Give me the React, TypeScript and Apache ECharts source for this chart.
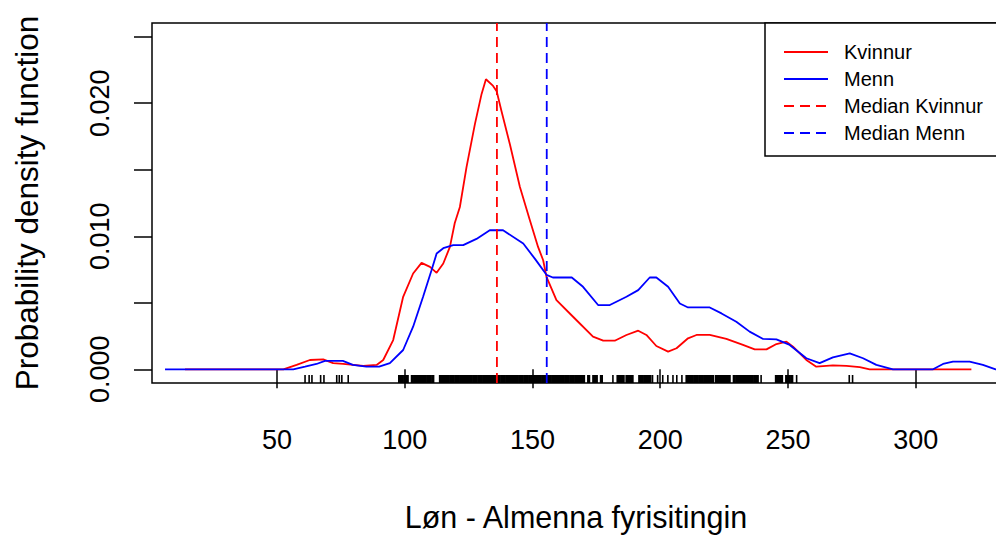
import React, { useEffect, useRef } from "react";
import * as echarts from "echarts";

// ---- data ----
const xTicks = [50, 100, 150, 200, 250, 300];
const yTicks = [0, 0.005, 0.01, 0.015, 0.02, 0.025];
const yLabelTicks = [0, 0.01, 0.02];

const kvinnurCurve: [number, number][] = [
  [14, 0], [52.5, 0], [57.7, 0.00033], [62.9, 0.0007], [68.1, 0.00075], [72, 0.00046],
  [75.9, 0.0004], [83.8, 0.00025], [89, 0.00033], [91.6, 0.0007], [95.5, 0.0022],
  [99.4, 0.00545], [103.3, 0.0072], [106.6, 0.008], [109.9, 0.0077], [112.5, 0.00725],
  [115.1, 0.00795], [117.7, 0.0092], [119.6, 0.011], [121.6, 0.0122], [124.2, 0.0152],
  [127.5, 0.01845], [130.1, 0.0207], [131.8, 0.0218], [134.6, 0.0213], [136, 0.0209],
  [137.9, 0.0194], [141.2, 0.0169], [145.1, 0.0137], [149, 0.0112], [152.2, 0.0092],
  [154.2, 0.0082], [155.5, 0.00695], [159.4, 0.0052], [165.9, 0.00395], [173.7, 0.00245],
  [177.7, 0.00215], [182.2, 0.00215], [186.8, 0.00258], [191.4, 0.0029], [194.6, 0.00258],
  [198.5, 0.00175], [203.1, 0.00133], [206.4, 0.00158], [210.9, 0.00233], [214.2, 0.00258],
  [219.4, 0.00258], [225.9, 0.00228], [232.4, 0.00183], [237, 0.0015], [241.6, 0.0015],
  [245.5, 0.0019], [249.4, 0.00208], [252, 0.0017], [257.2, 0.0007], [261.1, 0.0002],
  [267.6, 0.0003], [272.9, 0.00025], [278.1, 0.00016], [282, 0], [321.8, 0],
];

const mennCurve: [number, number][] = [
  [6.2, 0], [56.4, 0], [61, 0.0002], [65.5, 0.0004], [68.8, 0.00063], [75.8, 0.00063],
  [79.7, 0.00033], [85, 0.0002], [90, 0.0002], [94.2, 0.00046], [99.4, 0.00145],
  [103.3, 0.0032], [107.2, 0.00545], [110.5, 0.00745], [112.5, 0.0087], [115.1, 0.0091],
  [119, 0.00933], [122.9, 0.00933], [128.1, 0.0098], [133.3, 0.01045], [138.5, 0.01045],
  [146.4, 0.00945], [151, 0.0083], [155.5, 0.0071], [158, 0.0069], [165.4, 0.0069],
  [169.8, 0.0062], [175.7, 0.00483], [180.3, 0.00483], [186.8, 0.00545], [191.4, 0.00595],
  [195.9, 0.0069], [198.5, 0.0069], [203.1, 0.0062], [207.7, 0.00495], [210.9, 0.00465],
  [219.4, 0.00465], [224, 0.0042], [229.8, 0.00358], [235, 0.00283], [240.3, 0.00228],
  [245.5, 0.00225], [250.7, 0.00183], [257.2, 0.00083], [262.4, 0.00046], [267.6, 0.0009],
  [274.2, 0.0012], [279.4, 0.00083], [284.6, 0.00033], [291.1, 0], [306.8, 0],
  [310.7, 0.0004], [314.6, 0.00058], [321.1, 0.00058], [326.3, 0.00033], [331.3, 0], [336, 0],
];

const medianKvinnur = 136.1;
const medianMenn = 155.6;

// rug: isolated observations
const rugSingle = [61, 62.6, 63.7, 67.1, 68.4, 73.4, 74.4, 75.4, 77.9, 181.5, 197, 199, 201, 203, 205, 206.5, 208.5, 239.5, 253.4, 274, 275.3];
// rug: observations packed closely together
const rugDense = [
  98, 99, 100, 101, 103, 104, 105, 106, 107, 108, 109, 110, 111,
  114, 115, 116, 117, 118, 119, 120, 121, 122, 123, 124, 125, 126, 127, 128, 129, 130,
  131, 132, 133, 134, 135, 136, 137, 138, 139, 140, 141, 142, 143, 144, 145, 146, 147,
  148, 149, 150, 151, 152, 153, 154, 155, 156, 157, 158, 159, 160, 161, 162, 163, 164,
  165, 166, 167, 168, 169, 170, 172, 174, 175, 177, 183.5, 184.5, 185.5, 187, 188, 189,
  192, 193, 194, 195, 196, 210.5, 211.5, 212.5, 213.5, 214.5, 215.5, 216.5, 217.5, 218.5,
  219.5, 220.5, 222, 223, 224, 225, 226, 227, 229, 230, 231, 232, 233, 234, 235, 236, 237,
  238, 245.5, 246.5, 247.5, 249.5, 250.5, 251.5,
];

const xMin = 1.1;
const xMax = 333;
const yMin = -0.00103;
const yMax = 0.02603;

const FONT = "'Liberation Sans', Arial, sans-serif";

export default function App() {
  const ref = useRef<HTMLDivElement>(null);
  useEffect(() => {
    if (!ref.current) return;
    const chart = echarts.init(ref.current, undefined, { renderer: "svg" });
    const rugSeries = (vals: number[], w: number) => ({
      type: "custom",
      data: vals.map((v) => [v, yMin]),
      silent: true,
      z: 3,
      renderItem: (_params: any, api: any) => {
        const p = api.coord([api.value(0), api.value(1)]);
        return {
          type: "rect",
          shape: { x: p[0] - w / 2, y: p[1] - 8, width: w, height: 8 },
          style: { fill: "#000" },
        };
      },
    });
    chart.setOption({
      animation: false,
      backgroundColor: "#fff",
      textStyle: { fontFamily: FONT, color: "#000" },
      grid: {
        left: 152,
        top: 23,
        bottom: 154,
        right: -4,
        show: true,
        borderColor: "#000",
        borderWidth: 1.5,
        containLabel: false,
        outerBoundsMode: "none",
      },
      legend: {
        orient: "vertical",
        left: 765,
        top: 23,
        backgroundColor: "#fff",
        borderColor: "#000",
        borderWidth: 1.5,
        borderRadius: 0,
        padding: [19, 14, 13, 18],
        itemWidth: 44,
        itemHeight: 14,
        itemGap: 7,
        itemStyle: { opacity: 0 },
        data: ["Kvinnur", "Menn", "Median Kvinnur", "Median Menn"],
        textStyle: { fontSize: 20, color: "#000", fontFamily: FONT, lineHeight: 20, padding: [0, 0, 0, 11] },
        z: 10,
      },
      xAxis: {
        type: "value",
        min: xMin,
        max: xMax,
        name: "Løn - Almenna fyrisitingin",
        nameLocation: "middle",
        nameGap: 119,
        nameTextStyle: { fontSize: 30.5, color: "#000", fontFamily: FONT, lineHeight: 30 },
        axisLine: { show: false },
        splitLine: { show: false },
        axisTick: { show: true, length: 19, customValues: xTicks, lineStyle: { color: "#000", width: 1.5 } },
        axisLabel: {
          customValues: xTicks,
          fontSize: 27,
          lineHeight: 28,
          color: "#000",
          fontFamily: FONT,
          margin: 43,
        },
      },
      yAxis: {
        type: "value",
        min: yMin,
        max: yMax,
        name: "Probability density function",
        nameLocation: "middle",
        nameRotate: 90,
        nameGap: 110,
        nameTextStyle: { fontSize: 31.5, color: "#000", fontFamily: FONT, lineHeight: 31 },
        axisLine: { show: false },
        splitLine: { show: false },
        axisTick: { show: true, length: 18, customValues: yTicks, lineStyle: { color: "#000", width: 1.5 } },
        axisLabel: {
          customValues: yLabelTicks,
          rotate: 90,
          fontSize: 27,
          lineHeight: 28,
          color: "#000",
          fontFamily: FONT,
          margin: 38,
          formatter: (v: number) => v.toFixed(3),
        },
      },
      series: [
        {
          name: "Kvinnur",
          type: "line",
          data: kvinnurCurve,
          symbol: "none",
          lineStyle: { color: "#ff0000", width: 1.8 },
          itemStyle: { color: "#ff0000" },
          z: 2,
        },
        {
          name: "Menn",
          type: "line",
          data: mennCurve,
          symbol: "none",
          lineStyle: { color: "#0000ff", width: 1.8 },
          itemStyle: { color: "#0000ff" },
          z: 2,
        },
        rugSeries(rugDense, 3.2),
        rugSeries(rugSingle, 1.6),
        {
          name: "Median Kvinnur",
          type: "line",
          data: [[medianKvinnur, yMin], [medianKvinnur, yMax]],
          symbol: "none",
          lineStyle: { color: "#ff0000", width: 1.8, type: [10, 6] },
          itemStyle: { color: "#ff0000" },
          z: 4,
        },
        {
          name: "Median Menn",
          type: "line",
          data: [[medianMenn, yMin], [medianMenn, yMax]],
          symbol: "none",
          lineStyle: { color: "#0000ff", width: 1.8, type: [10, 6] },
          itemStyle: { color: "#0000ff" },
          z: 4,
        },
      ],
    });
    return () => chart.dispose();
  }, []);
  return (
    <div
      ref={ref}
      style={{ position: "absolute", left: 0, top: 0, width: 996, height: 537, background: "#fff" }}
    />
  );
}
